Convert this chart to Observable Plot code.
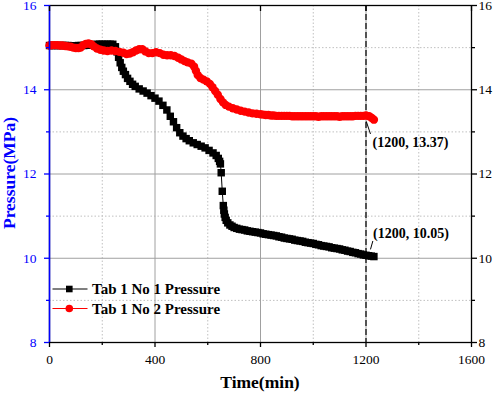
<!DOCTYPE html>
<html>
<head>
<meta charset="utf-8">
<script src="https://cdn.jsdelivr.net/npm/d3@7"></script>
<script src="https://cdn.jsdelivr.net/npm/@observablehq/plot@0.6"></script>
<style>
  html, body { margin: 0; padding: 0; background: #fff; }
  #chart svg { display: block; }
</style>
</head>
<body>
<div id="chart"></div>
<script>
// ---- data ----
const seriesNames = ["Tab 1 No 1 Pressure", "Tab 1 No 2 Pressure"];

const blackTime = [0,10,20,30,40,50,60,70,80,90,100,110,120,130,140,150,160,170,180,190,200,210,220,230,240,250,256,262,268,274,280,288,296,305,315,325,340,355,370,385,400,415,430,445,458,470,482,494,506,518,530,545,560,575,590,605,620,632,640,645,648,651,655,659,661,663,666,670,676,684,692,700,710,720,730,740,750,760,770,780,790,800,810,820,830,840,850,860,870,880,890,900,910,920,930,940,950,960,970,980,990,1000,1010,1020,1030,1040,1050,1060,1070,1080,1090,1100,1110,1120,1130,1140,1150,1160,1170,1180,1190,1200,1210,1220,1230];
const blackPressure = [15.05,15.05,15.05,15.05,15.05,15.05,15.05,15.05,15.04,15.04,15.04,15.05,15.05,15.05,15.06,15.06,15.07,15.07,15.08,15.08,15.08,15.08,15.08,15.08,15.08,15.02,14.90,14.77,14.64,14.53,14.44,14.36,14.27,14.20,14.13,14.08,14.02,13.97,13.92,13.86,13.80,13.73,13.63,13.52,13.37,13.24,13.10,12.98,12.90,12.84,12.79,12.74,12.70,12.66,12.62,12.56,12.50,12.44,12.37,12.30,12.24,12.03,11.59,11.25,11.14,11.05,10.97,10.90,10.84,10.79,10.76,10.73,10.71,10.69,10.68,10.67,10.65,10.64,10.63,10.62,10.61,10.60,10.58,10.57,10.56,10.55,10.54,10.53,10.51,10.50,10.48,10.47,10.46,10.45,10.43,10.42,10.41,10.40,10.38,10.37,10.36,10.35,10.33,10.32,10.30,10.29,10.28,10.27,10.25,10.24,10.23,10.22,10.20,10.19,10.17,10.16,10.14,10.13,10.11,10.10,10.08,10.07,10.06,10.05,10.04];

const redTime = [0,10,20,30,40,50,60,70,80,90,100,110,118,128,138,148,158,168,180,193,206,220,235,250,265,280,292,304,316,328,340,352,364,376,390,404,418,432,446,460,474,488,500,512,524,538,548,555,562,572,584,596,608,618,628,638,648,658,668,680,695,710,725,740,755,770,785,800,810,820,830,840,850,860,870,880,890,900,910,920,930,940,950,960,970,980,990,1000,1010,1020,1030,1040,1050,1060,1070,1080,1090,1100,1110,1120,1130,1140,1150,1160,1170,1180,1190,1200,1212,1222,1230];
const redPressure = [15.05,15.06,15.06,15.06,15.05,15.05,15.04,15.03,15.02,15.00,14.99,14.99,15.00,15.06,15.09,15.10,15.08,15.03,14.98,14.95,14.93,14.92,14.93,14.92,14.90,14.88,14.85,14.86,14.89,14.93,14.96,14.96,14.91,14.87,14.87,14.89,14.87,14.83,14.82,14.82,14.80,14.76,14.72,14.68,14.65,14.62,14.55,14.45,14.35,14.28,14.24,14.20,14.14,14.06,13.97,13.88,13.78,13.70,13.64,13.60,13.56,13.53,13.50,13.48,13.46,13.44,13.43,13.42,13.41,13.40,13.40,13.39,13.39,13.38,13.38,13.38,13.38,13.38,13.38,13.37,13.37,13.37,13.37,13.37,13.37,13.37,13.37,13.37,13.37,13.36,13.37,13.37,13.37,13.37,13.37,13.37,13.37,13.36,13.37,13.37,13.37,13.37,13.37,13.38,13.38,13.38,13.38,13.39,13.37,13.33,13.29];

const markerTime = [1200];
const annoText = ["(1200, 13.37)", "(1200, 10.05)"];
const annoX = [1225, 1227];
const annoY = [12.75, 10.58];
const leaderX1 = [1201, 1217];
const leaderY1 = [13.25, 10.21];
const leaderX2 = [1217, 1226];
const leaderY2 = [12.95, 10.41];

const xMajorTicks = [0, 400, 800, 1200, 1600];
const xMinorTicks = [200, 600, 1000, 1400];
const yMajorTicks = [8, 10, 12, 14, 16];
const yMinorTicks = [9, 11, 13, 15];

// ---- build tables ----
const black = blackTime.map((t, i) => ({t, p: blackPressure[i]}));
const red = redTime.map((t, i) => ({t, p: redPressure[i]}));
const annos = annoText.map((s, i) => ({s, x: annoX[i], y: annoY[i], x1: leaderX1[i], y1: leaderY1[i], x2: leaderX2[i], y2: leaderY2[i]}));

const BLUE = "#0000ff";
const serif = "'Liberation Serif', 'Times New Roman', serif";

const chart = Plot.plot({
  width: 496,
  height: 394,
  marginLeft: 49,
  marginRight: 25,
  marginTop: 5,
  marginBottom: 52,
  style: {fontFamily: serif, fontSize: "13.5px", background: "#fff", color: "#000", overflow: "visible"},
  x: {domain: [0, 1600]},
  y: {domain: [8, 16]},
  marks: [
    // grid
    Plot.gridX(xMinorTicks, {stroke: "#c0c0c0", strokeOpacity: 1, strokeDasharray: "1.5,2"}),
    Plot.gridY(yMinorTicks, {stroke: "#c0c0c0", strokeOpacity: 1, strokeDasharray: "1.5,2"}),
    Plot.gridX(xMajorTicks.slice(1, -1), {stroke: "#a0a0a0", strokeOpacity: 1}),
    Plot.gridY(yMajorTicks.slice(1, -1), {stroke: "#a0a0a0", strokeOpacity: 1}),
    // dashed marker line
    Plot.ruleX(markerTime, {stroke: "#000", strokeWidth: 1.2, strokeDasharray: "6,3"}),
    // series 1
    Plot.line(black, {x: "t", y: "p", stroke: "#000", strokeWidth: 1}),
    Plot.dot(black, {x: "t", y: "p", symbol: "square", r: 4.2, fill: "#000", stroke: "none"}),
    // series 2
    Plot.line(red, {x: "t", y: "p", stroke: "#ff0000", strokeWidth: 1}),
    Plot.dot(red, {x: "t", y: "p", symbol: "circle", r: 4.2, fill: "#ff0000", stroke: "none"}),
    // annotations
    Plot.link(annos, {x1: "x1", y1: "y1", x2: "x2", y2: "y2", stroke: "#000", strokeWidth: 1}),
    Plot.text(annos, {x: "x", y: "y", text: "s", textAnchor: "start", fontWeight: "bold", fontSize: 14, fill: "#000"}),
    // frame
    Plot.frame({stroke: "#000", strokeWidth: 1.3}),
    Plot.ruleX([0], {stroke: BLUE, strokeWidth: 1.5}),
    // axes
    Plot.axisX(xMajorTicks, {anchor: "bottom", tickSize: 5, tickPadding: 7, label: null, tickFormat: d => String(d), strokeWidth: 1.3}),
    Plot.axisX(xMinorTicks, {anchor: "bottom", tickSize: 3, text: null, label: null, strokeWidth: 1.3}),
    Plot.axisX(xMajorTicks, {anchor: "top", tickSize: -5, text: null, label: null, strokeWidth: 1.3}),
    Plot.axisY(yMajorTicks, {anchor: "left", tickSize: 5, tickPadding: 8, label: null, color: BLUE, stroke: BLUE, fill: BLUE, strokeWidth: 1.3}),
    Plot.axisY(yMinorTicks, {anchor: "left", tickSize: 3, text: null, label: null, stroke: BLUE, strokeWidth: 1.3}),
    Plot.axisY(yMajorTicks, {anchor: "right", tickSize: 5, tickPadding: 2, label: null, strokeWidth: 1.3}),
    Plot.axisY(yMinorTicks, {anchor: "right", tickSize: 3, text: null, label: null, strokeWidth: 1.3})
  ]
});

document.getElementById("chart").appendChild(chart);

// ---- axis titles and legend (layout only) ----
const svg = d3.select(chart);
svg.append("text")
  .attr("x", 260).attr("y", 388)
  .attr("text-anchor", "middle")
  .attr("font-family", serif).attr("font-weight", "bold").attr("font-size", 17.5)
  .attr("fill", "#000")
  .text("Time(min)");
svg.append("text")
  .attr("transform", "translate(15,173) rotate(-90)")
  .attr("text-anchor", "middle")
  .attr("font-family", serif).attr("font-weight", "bold").attr("font-size", 17.5)
  .attr("fill", BLUE)
  .text("Pressure(MPa)");

const legendColors = ["#000", "#ff0000"];
const legendY = [289, 308.5];
seriesNames.forEach((name, i) => {
  const g = svg.append("g");
  g.append("line").attr("x1", 52.5).attr("x2", 87.5).attr("y1", legendY[i]).attr("y2", legendY[i])
    .attr("stroke", legendColors[i]).attr("stroke-width", 1.2);
  if (i === 0) {
    g.append("rect").attr("x", 69.3 - 3.3).attr("y", legendY[i] - 3.3).attr("width", 6.6).attr("height", 6.6).attr("fill", "#000");
  } else {
    g.append("circle").attr("cx", 69.3).attr("cy", legendY[i]).attr("r", 3.8).attr("fill", "#ff0000");
  }
  g.append("text").attr("x", 92).attr("y", legendY[i] + 5)
    .attr("text-anchor", "start")
    .attr("font-family", serif).attr("font-weight", "bold").attr("font-size", 15)
    .attr("fill", "#000").text(name);
});
</script>
</body>
</html>
